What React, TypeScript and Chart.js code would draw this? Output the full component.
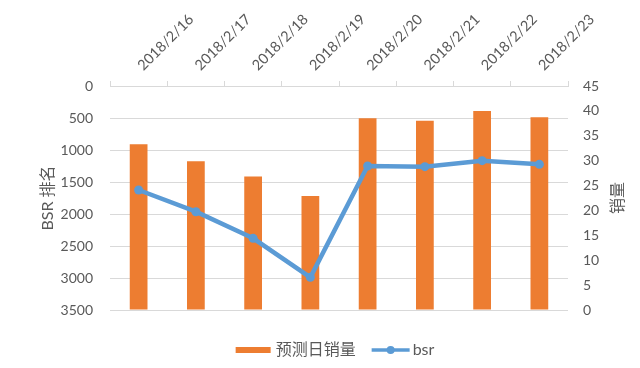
import React, { useEffect, useRef } from 'react';
import { Chart, registerables } from 'chart.js';

Chart.register(...registerables);

// ---- data ----
const categories = ['2018/2/16', '2018/2/17', '2018/2/18', '2018/2/19', '2018/2/20', '2018/2/21', '2018/2/22', '2018/2/23'];
const salesForecast = [33.3, 29.9, 26.8, 22.9, 38.5, 38.0, 40.0, 38.7];
const bsrRank = [1625, 1964, 2380, 2990, 1250, 1260, 1167, 1224];
const seriesNames = ['预测日销量', 'bsr'];
const leftAxisTitle = 'BSR 排名';
const rightAxisTitle = '销量';
const leftAxisMin = 0;
const leftAxisMax = 3500;
const leftAxisStep = 500;
const rightAxisMin = 0;
const rightAxisMax = 45;
const rightAxisStep = 5;

// ---- style ----
const FONT = "Lato, 'Noto Sans CJK SC', sans-serif";
const TEXT_COLOR = '#595959';
const GRID_COLOR = '#D9D9D9';
const BAR_COLOR = '#ED7D31';
const LINE_COLOR = '#5B9BD5';

const overlayPlugin = {
  id: 'overlayPlugin',
  afterDraw(chart: any) {
    const ctx = chart.ctx;
    const area = chart.chartArea;
    ctx.save();
    // right axis title (reads bottom-to-top)
    ctx.font = `16px ${FONT}`;
    ctx.fillStyle = TEXT_COLOR;
    ctx.textAlign = 'center';
    ctx.textBaseline = 'middle';
    ctx.translate(618, (area.top + area.bottom) / 2);
    ctx.rotate(-Math.PI / 2);
    ctx.fillText(rightAxisTitle, 0, 0);
    ctx.restore();

    // legend
    ctx.save();
    ctx.font = `16px ${FONT}`;
    ctx.textBaseline = 'middle';
    ctx.textAlign = 'left';
    const t1 = ctx.measureText(seriesNames[0]).width;
    const t2 = ctx.measureText(seriesNames[1]).width;
    const rectW = 35, gap1 = 5, itemGap = 16, lineW = 38, gap2 = 3;
    const total = rectW + gap1 + t1 + itemGap + lineW + gap2 + t2;
    const cx = (area.left + area.right) / 2 - 4;
    let x = cx - total / 2;
    const y = 350;
    ctx.fillStyle = BAR_COLOR;
    ctx.fillRect(x, y - 3, rectW, 6);
    x += rectW + gap1;
    ctx.fillStyle = TEXT_COLOR;
    ctx.fillText(seriesNames[0], x, y);
    x += t1 + itemGap;
    ctx.strokeStyle = LINE_COLOR;
    ctx.lineWidth = 3.5;
    ctx.beginPath();
    ctx.moveTo(x, y);
    ctx.lineTo(x + lineW, y);
    ctx.stroke();
    ctx.beginPath();
    ctx.arc(x + lineW / 2, y, 4, 0, Math.PI * 2);
    ctx.fillStyle = LINE_COLOR;
    ctx.fill();
    x += lineW + gap2;
    ctx.fillStyle = TEXT_COLOR;
    ctx.fillText(seriesNames[1], x, y);
    ctx.restore();
  },
};

export default function App() {
  const canvasRef = useRef<HTMLCanvasElement | null>(null);

  useEffect(() => {
    if (!canvasRef.current) return;
    const chart = new Chart(canvasRef.current, {
      type: 'bar',
      data: {
        labels: categories,
        datasets: [
          {
            type: 'bar',
            label: seriesNames[0],
            data: salesForecast,
            backgroundColor: BAR_COLOR,
            yAxisID: 'y1',
            barPercentage: 0.31,
            categoryPercentage: 1,
            order: 1,
          },
          {
            type: 'line',
            label: seriesNames[1],
            data: bsrRank,
            borderColor: LINE_COLOR,
            backgroundColor: LINE_COLOR,
            borderWidth: 4.5,
            pointRadius: 4.5,
            pointBackgroundColor: LINE_COLOR,
            pointBorderColor: LINE_COLOR,
            pointBorderWidth: 0,
            tension: 0,
            yAxisID: 'y',
            order: 0,
          } as any,
        ],
      },
      options: {
        responsive: true,
        maintainAspectRatio: false,
        animation: false,
        layout: { padding: { left: 0, right: 0, top: 0, bottom: 58 } },
        plugins: {
          legend: { display: false },
          tooltip: { enabled: false },
          title: { display: false },
        },
        scales: {
          x: {
            position: 'top',
            offset: true,
            grid: {
              offset: true,
              drawOnChartArea: false,
              drawTicks: true,
              tickLength: 5,
              color: GRID_COLOR,
            },
            border: { display: true, color: GRID_COLOR },
            ticks: {
              minRotation: 45,
              maxRotation: 45,
              autoSkip: false,
              padding: 7,
              labelOffset: 14,
              color: TEXT_COLOR,
              font: { family: FONT, size: 14.5 },
            },
            afterFit: (scale: any) => {
              scale.height = 86;
            },
          },
          y: {
            position: 'left',
            reverse: true,
            min: leftAxisMin,
            max: leftAxisMax,
            grid: { color: GRID_COLOR, drawTicks: false },
            border: { display: false },
            ticks: {
              stepSize: leftAxisStep,
              padding: 17,
              color: TEXT_COLOR,
              font: { family: FONT, size: 14 },
              callback: (v: any) => String(v),
            },
            title: {
              display: true,
              text: leftAxisTitle,
              color: TEXT_COLOR,
              font: { family: FONT, size: 16 },
              padding: { top: 38, bottom: 0 },
            },
            afterFit: (scale: any) => {
              scale.width = 110;
            },
          },
          y1: {
            position: 'right',
            min: rightAxisMin,
            max: rightAxisMax,
            grid: { drawOnChartArea: false, drawTicks: false },
            border: { display: false },
            ticks: {
              stepSize: rightAxisStep,
              padding: 15,
              color: TEXT_COLOR,
              font: { family: FONT, size: 14 },
            },
            afterFit: (scale: any) => {
              scale.width = 72;
            },
          },
        },
      },
      plugins: [overlayPlugin],
    } as any);
    return () => chart.destroy();
  }, []);

  return (
    <div style={{ position: 'fixed', left: 0, top: 0, width: 640, height: 368, background: '#fff' }}>
      <canvas ref={canvasRef} />
    </div>
  );
}
